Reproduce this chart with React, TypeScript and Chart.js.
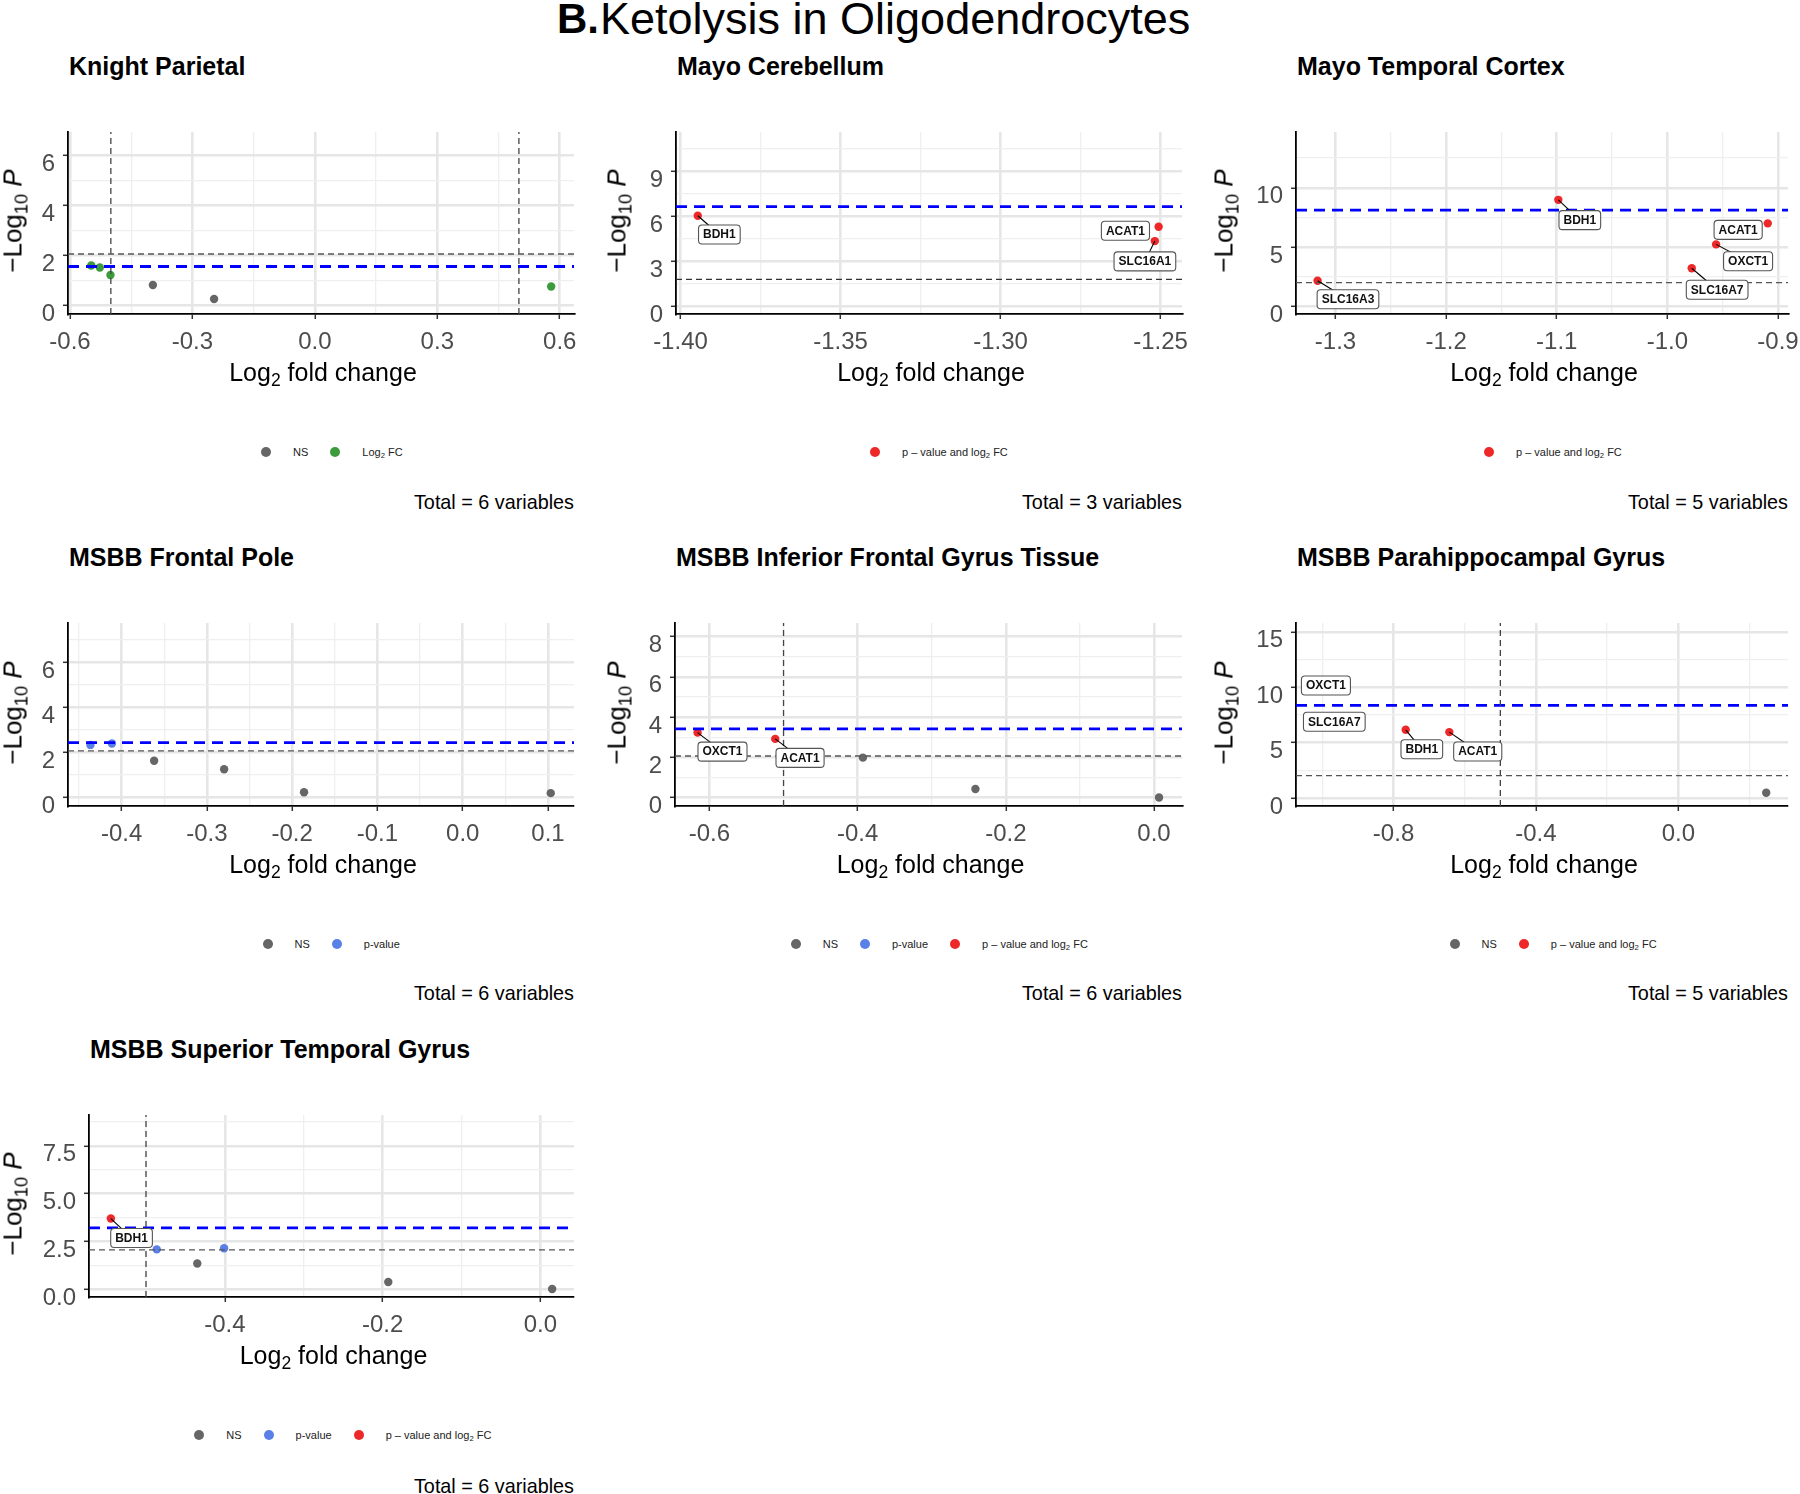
import React, { useEffect, useRef } from 'react';
import { Chart, registerables } from 'chart.js';

Chart.register(...registerables);

const FONT = "'Liberation Sans', Arial, Helvetica, sans-serif";

// ---------------- DATA ----------------
// Knight Parietal
const kpGenes = ['', '', '', '', '', ''];
const kpLog2FC = [-0.548, -0.527, -0.501, -0.397, -0.247, 0.579];
const kpNegLogP = [1.61, 1.53, 1.23, 0.83, 0.27, 0.77];
const kpCategory = ['FC', 'FC', 'FC', 'NS', 'NS', 'FC'];
const kpXTicks = [-0.6, -0.3, 0, 0.3, 0.6];
const kpXTickLabels = ['-0.6', '-0.3', '0.0', '0.3', '0.6'];
const kpXMinor = [-0.45, -0.15, 0.15, 0.45];
const kpYTicks = [0, 2, 4, 6];
const kpYTickLabels = ['0', '2', '4', '6'];
const kpYMinor = [1, 3, 5];

// Mayo Cerebellum
const mcGenes = ['BDH1', 'ACAT1', 'SLC16A1'];
const mcLog2FC = [-1.3946, -1.2506, -1.2518];
const mcNegLogP = [6.02, 5.29, 4.33];
const mcCategory = ['PFC', 'PFC', 'PFC'];
const mcXTicks = [-1.4, -1.35, -1.3, -1.25];
const mcXTickLabels = ['-1.40', '-1.35', '-1.30', '-1.25'];
const mcXMinor = [-1.375, -1.325, -1.275];
const mcYTicks = [0, 3, 6, 9];
const mcYTickLabels = ['0', '3', '6', '9'];
const mcYMinor = [1.5, 4.5, 7.5, 10.5];

// Mayo Temporal Cortex
const mtGenes = ['BDH1', 'ACAT1', 'OXCT1', 'SLC16A7', 'SLC16A3'];
const mtLog2FC = [-1.0986, -0.9093, -0.956, -0.978, -1.3162];
const mtNegLogP = [8.99, 7.01, 5.24, 3.23, 2.18];
const mtCategory = ['PFC', 'PFC', 'PFC', 'PFC', 'PFC'];
const mtXTicks = [-1.3, -1.2, -1.1, -1.0, -0.9];
const mtXTickLabels = ['-1.3', '-1.2', '-1.1', '-1.0', '-0.9'];
const mtXMinor = [-1.25, -1.15, -1.05, -0.95];
const mtYTicks = [0, 5, 10];
const mtYTickLabels = ['0', '5', '10'];
const mtYMinor = [2.5, 7.5, 12.5];

// MSBB Frontal Pole
const fpGenes = ['', '', '', '', '', ''];
const fpLog2FC = [-0.4366, -0.4114, -0.3619, -0.2798, -0.1861, 0.1032];
const fpNegLogP = [2.34, 2.4, 1.64, 1.26, 0.24, 0.2];
const fpCategory = ['P', 'P', 'NS', 'NS', 'NS', 'NS'];
const fpXTicks = [-0.4, -0.3, -0.2, -0.1, 0, 0.1];
const fpXTickLabels = ['-0.4', '-0.3', '-0.2', '-0.1', '0.0', '0.1'];
const fpXMinor = [-0.45, -0.35, -0.25, -0.15, -0.05, 0.05];
const fpYTicks = [0, 2, 4, 6];
const fpYTickLabels = ['0', '2', '4', '6'];
const fpYMinor = [1, 3, 5, 7];

// MSBB Inferior Frontal Gyrus Tissue
const ifGenes = ['OXCT1', 'ACAT1', '', '', '', ''];
const ifLog2FC = [-0.616, -0.5112, -0.475, -0.3929, -0.241, 0.0068];
const ifNegLogP = [3.23, 2.92, 2.25, 1.99, 0.43, 0.01];
const ifCategory = ['PFC', 'PFC', 'P', 'NS', 'NS', 'NS'];
const ifXTicks = [-0.6, -0.4, -0.2, 0];
const ifXTickLabels = ['-0.6', '-0.4', '-0.2', '0.0'];
const ifXMinor = [-0.5, -0.3, -0.1];
const ifYTicks = [0, 2, 4, 6, 8];
const ifYTickLabels = ['0', '2', '4', '6', '8'];
const ifYMinor = [1, 3, 5, 7];

// MSBB Parahippocampal Gyrus
const phGenes = ['OXCT1', 'SLC16A7', 'BDH1', 'ACAT1', ''];
const phLog2FC = [-1.011, -0.99, -0.7658, -0.6433, 0.2468];
const phNegLogP = [10.1, 6.9, 6.16, 5.95, 0.48];
const phCategory = ['PFC', 'PFC', 'PFC', 'PFC', 'NS'];
const phXTicks = [-0.8, -0.4, 0];
const phXTickLabels = ['-0.8', '-0.4', '0.0'];
const phXMinor = [-1.0, -0.6, -0.2, 0.2];
const phYTicks = [0, 5, 10, 15];
const phYTickLabels = ['0', '5', '10', '15'];
const phYMinor = [2.5, 7.5, 12.5];

// MSBB Superior Temporal Gyrus
const stGenes = ['BDH1', '', '', '', '', ''];
const stLog2FC = [-0.5446, -0.4864, -0.401, -0.435, -0.1928, 0.015];
const stNegLogP = [3.7, 2.09, 2.15, 1.35, 0.38, 0.02];
const stCategory = ['PFC', 'P', 'P', 'NS', 'NS', 'NS'];
const stXTicks = [-0.4, -0.2, 0];
const stXTickLabels = ['-0.4', '-0.2', '0.0'];
const stXMinor = [-0.5, -0.3, -0.1];
const stYTicks = [0, 2.5, 5, 7.5];
const stYTickLabels = ['0.0', '2.5', '5.0', '7.5'];
const stYMinor = [1.25, 3.75, 6.25, 8.75];

// ---------------- STYLE ----------------
const CAT_COLORS: Record<string, string> = {
  NS: '#666666',
  FC: '#3c9b3c',
  P: '#5a7fe6',
  PFC: '#ee2828',
};

const YW = 80; // y-axis band width
const PT = 24; // top padding
const PR = 50; // right padding
const XH = 64; // x-axis band height

type LabelStyle = { dx: number; dy: number; seg: boolean };

type PanelSpec = {
  title: string;
  genes: string[];
  x: number[];
  y: number[];
  cat: string[];
  xlim: [number, number];
  ylim: [number, number];
  xTicks: number[];
  xTickLabels: string[];
  xMinor: number[];
  yTicks: number[];
  yTickLabels: string[];
  yMinor: number[];
  pCut: number;
  pCutColor: string;
  hBlue: number;
  vCuts: number[];
  legend: string[];
  total: number;
  box: { L: number; T: number; R: number; B: number };
  yTitleX: number;
  legendLeft: number;
  legendY: number;
  totalBaseline: number;
  labelStyle: Record<string, LabelStyle>;
};

const panels: PanelSpec[] = [
  {
    title: 'Knight Parietal', genes: kpGenes, x: kpLog2FC, y: kpNegLogP, cat: kpCategory,
    xlim: [-0.605, 0.635], ylim: [-0.33, 6.95],
    xTicks: kpXTicks, xTickLabels: kpXTickLabels, xMinor: kpXMinor,
    yTicks: kpYTicks, yTickLabels: kpYTickLabels, yMinor: kpYMinor,
    pCut: 2.07, pCutColor: '#555555', hBlue: 1.57, vCuts: [-0.5, 0.5],
    legend: ['NS', 'FC'], total: 6,
    box: { L: 68, T: 132, R: 574, B: 314 }, yTitleX: 14,
    legendLeft: 261, legendY: 452, totalBaseline: 510,
    labelStyle: {},
  },
  {
    title: 'Mayo Cerebellum', genes: mcGenes, x: mcLog2FC, y: mcNegLogP, cat: mcCategory,
    xlim: [-1.4014, -1.2433], ylim: [-0.53, 11.6],
    xTicks: mcXTicks, xTickLabels: mcXTickLabels, xMinor: mcXMinor,
    yTicks: mcYTicks, yTickLabels: mcYTickLabels, yMinor: mcYMinor,
    pCut: 1.78, pCutColor: '#333333', hBlue: 6.62, vCuts: [],
    legend: ['PFC'], total: 3,
    box: { L: 676, T: 132, R: 1182, B: 314 }, yTitleX: 618,
    legendLeft: 870, legendY: 452, totalBaseline: 510,
    labelStyle: {
      BDH1: { dx: 21.6, dy: 18.8, seg: true },
      ACAT1: { dx: -33.2, dy: 4.1, seg: false },
      SLC16A1: { dx: -9.9, dy: 20.3, seg: true },
    },
  },
  {
    title: 'Mayo Temporal Cortex', genes: mtGenes, x: mtLog2FC, y: mtNegLogP, cat: mtCategory,
    xlim: [-1.3357, -0.891], ylim: [-0.62, 14.7],
    xTicks: mtXTicks, xTickLabels: mtXTickLabels, xMinor: mtXMinor,
    yTicks: mtYTicks, yTickLabels: mtYTickLabels, yMinor: mtYMinor,
    pCut: 2.02, pCutColor: '#555555', hBlue: 8.13, vCuts: [],
    legend: ['PFC'], total: 5,
    box: { L: 1296, T: 132, R: 1788, B: 314 }, yTitleX: 1225,
    legendLeft: 1484, legendY: 452, totalBaseline: 510,
    labelStyle: {
      BDH1: { dx: 21.5, dy: 20.3, seg: true },
      ACAT1: { dx: -29.6, dy: 6.5, seg: false },
      OXCT1: { dx: 32.0, dy: 16.9, seg: true },
      SLC16A7: { dx: 25.4, dy: 21.5, seg: true },
      SLC16A3: { dx: 30.4, dy: 18.5, seg: true },
    },
  },
  {
    title: 'MSBB Frontal Pole', genes: fpGenes, x: fpLog2FC, y: fpNegLogP, cat: fpCategory,
    xlim: [-0.4629, 0.1305], ylim: [-0.37, 7.75],
    xTicks: fpXTicks, xTickLabels: fpXTickLabels, xMinor: fpXMinor,
    yTicks: fpYTicks, yTickLabels: fpYTickLabels, yMinor: fpYMinor,
    pCut: 2.08, pCutColor: '#555555', hBlue: 2.44, vCuts: [],
    legend: ['NS', 'P'], total: 6,
    box: { L: 68, T: 623, R: 574, B: 806 }, yTitleX: 14,
    legendLeft: 262.5, legendY: 943.5, totalBaseline: 1001,
    labelStyle: {},
  },
  {
    title: 'MSBB Inferior Frontal Gyrus Tissue', genes: ifGenes, x: ifLog2FC, y: ifNegLogP, cat: ifCategory,
    xlim: [-0.6465, 0.0378], ylim: [-0.41, 8.67],
    xTicks: ifXTicks, xTickLabels: ifXTickLabels, xMinor: ifXMinor,
    yTicks: ifYTicks, yTickLabels: ifYTickLabels, yMinor: ifYMinor,
    pCut: 2.07, pCutColor: '#555555', hBlue: 3.42, vCuts: [-0.5],
    legend: ['NS', 'P', 'PFC'], total: 6,
    box: { L: 675, T: 623, R: 1182, B: 806 }, yTitleX: 618,
    legendLeft: 790.7, legendY: 943.5, totalBaseline: 1001,
    labelStyle: {
      OXCT1: { dx: 24.9, dy: 19, seg: true },
      ACAT1: { dx: 24.8, dy: 19, seg: true },
    },
  },
  {
    title: 'MSBB Parahippocampal Gyrus', genes: phGenes, x: phLog2FC, y: phNegLogP, cat: phCategory,
    xlim: [-1.074, 0.308], ylim: [-0.72, 15.8],
    xTicks: phXTicks, xTickLabels: phXTickLabels, xMinor: phXMinor,
    yTicks: phYTicks, yTickLabels: phYTickLabels, yMinor: phYMinor,
    pCut: 2.02, pCutColor: '#555555', hBlue: 8.36, vCuts: [-0.5],
    legend: ['NS', 'PFC'], total: 5,
    box: { L: 1296, T: 623, R: 1788, B: 806 }, yTitleX: 1225,
    legendLeft: 1449.5, legendY: 943.5, totalBaseline: 1001,
    labelStyle: {
      OXCT1: { dx: 7.5, dy: -0.7, seg: false },
      SLC16A7: { dx: 8.4, dy: 0.1, seg: false },
      BDH1: { dx: 16.1, dy: 19.5, seg: true },
      ACAT1: { dx: 28.4, dy: 19.4, seg: true },
    },
  },
  {
    title: 'MSBB Superior Temporal Gyrus', genes: stGenes, x: stLog2FC, y: stNegLogP, cat: stCategory,
    xlim: [-0.5723, 0.0427], ylim: [-0.4, 9.11],
    xTicks: stXTicks, xTickLabels: stXTickLabels, xMinor: stXMinor,
    yTicks: stYTicks, yTickLabels: stYTickLabels, yMinor: stYMinor,
    pCut: 2.06, pCutColor: '#555555', hBlue: 3.21, vCuts: [-0.5],
    legend: ['NS', 'P', 'PFC'], total: 6,
    box: { L: 89, T: 1115, R: 574, B: 1297 }, yTitleX: 14,
    legendLeft: 194.3, legendY: 1435, totalBaseline: 1494,
    labelStyle: {
      BDH1: { dx: 20.7, dy: 19.4, seg: true },
    },
  },
];

// ---------------- HELPERS ----------------
const near = (a: number, b: number) => Math.abs(a - b) < 1e-9;

function axisOptions(
  min: number, max: number, major: number[], majorLabels: string[], minor: number[],
  position: 'left' | 'bottom', fixedSize: number,
) {
  const all = [...major, ...minor].filter((v) => v >= min && v <= max).sort((a, b) => a - b);
  const isMajor = (v: any) => typeof v === 'number' && major.some((m) => near(m, v));
  const labelFor = (v: number) => {
    const i = major.findIndex((m) => near(m, v));
    return i >= 0 ? majorLabels[i] : '';
  };
  return {
    type: 'linear',
    position,
    min,
    max,
    bounds: 'data',
    afterBuildTicks: (axis: any) => {
      axis.ticks = all.map((v) => ({ value: v }));
    },
    afterFit: (axis: any) => {
      if (position === 'left') axis.width = fixedSize;
      else axis.height = fixedSize;
    },
    grid: {
      color: (c: any) => (isMajor(c.tick?.value) ? '#E6E6E6' : '#EFEFEF'),
      lineWidth: (c: any) => (isMajor(c.tick?.value) ? 2.6 : 1.3),
      tickColor: (c: any) => (isMajor(c.tick?.value) ? '#333333' : 'rgba(0,0,0,0)'),
      tickWidth: 1.5,
      tickLength: 5,
      drawTicks: true,
      drawOnChartArea: true,
    },
    border: { display: true, color: '#000000', width: 1.8 },
    ticks: {
      autoSkip: false,
      maxRotation: 0,
      minRotation: 0,
      padding: position === 'left' ? 8 : 9,
      labelOffset: position === 'left' ? 9 : 0,
      color: '#4D4D4D',
      font: { family: FONT, size: 24 },
      callback: (v: any) => labelFor(Number(v)),
    },
  };
}

function makeLabelPlugin(spec: PanelSpec) {
  return {
    id: 'geneLabels',
    afterDatasetsDraw(chart: any) {
      const { ctx } = chart;
      const xs = chart.scales.x;
      const ys = chart.scales.y;
      ctx.save();
      ctx.font = `bold 12px ${FONT}`;
      spec.genes.forEach((g, i) => {
        if (!g) return;
        const st = spec.labelStyle[g];
        if (!st) return;
        const px = xs.getPixelForValue(spec.x[i]);
        const py = ys.getPixelForValue(spec.y[i]);
        const cx = px + st.dx;
        const cy = py + st.dy;
        const tw = ctx.measureText(g).width;
        const w = tw + 9;
        const h = 19;
        if (st.seg) {
          ctx.beginPath();
          ctx.moveTo(px, py);
          ctx.lineTo(cx, cy);
          ctx.strokeStyle = '#000000';
          ctx.lineWidth = 1.1;
          ctx.stroke();
        }
        const x0 = cx - w / 2;
        const y0 = cy - h / 2;
        const r = 3.5;
        ctx.beginPath();
        ctx.moveTo(x0 + r, y0);
        ctx.lineTo(x0 + w - r, y0);
        ctx.quadraticCurveTo(x0 + w, y0, x0 + w, y0 + r);
        ctx.lineTo(x0 + w, y0 + h - r);
        ctx.quadraticCurveTo(x0 + w, y0 + h, x0 + w - r, y0 + h);
        ctx.lineTo(x0 + r, y0 + h);
        ctx.quadraticCurveTo(x0, y0 + h, x0, y0 + h - r);
        ctx.lineTo(x0, y0 + r);
        ctx.quadraticCurveTo(x0, y0, x0 + r, y0);
        ctx.closePath();
        ctx.fillStyle = '#ffffff';
        ctx.fill();
        ctx.strokeStyle = '#555555';
        ctx.lineWidth = 1.1;
        ctx.stroke();
        ctx.fillStyle = '#111111';
        ctx.textAlign = 'center';
        ctx.textBaseline = 'middle';
        ctx.fillText(g, cx, cy + 0.5);
      });
      ctx.restore();
    },
  };
}

const Sub = ({ children }: { children: React.ReactNode }) => (
  <span style={{ fontSize: '0.7em', position: 'relative', top: '0.32em' }}>{children}</span>
);

function legendText(cat: string): React.ReactNode {
  if (cat === 'NS') return 'NS';
  if (cat === 'FC') return (<>Log<Sub>2</Sub> FC</>);
  if (cat === 'P') return 'p-value';
  return (<>p – value and log<Sub>2</Sub> FC</>);
}

function TextAt({ x, baseline, size, bold, align, color, children }: any) {
  const top = baseline - 0.8465 * size;
  const tx = align === 'right' ? 'translateX(-100%)' : align === 'center' ? 'translateX(-50%)' : 'none';
  return (
    <div
      style={{
        position: 'absolute', left: x, top, fontSize: size, lineHeight: `${size}px`,
        fontFamily: FONT, fontWeight: bold ? 'bold' : 'normal', whiteSpace: 'nowrap',
        transform: tx, color: color || '#000',
      }}
    >
      {children}
    </div>
  );
}

function VolcanoPanel({ spec }: { spec: PanelSpec }) {
  const ref = useRef<HTMLCanvasElement>(null);
  const { L, T, R, B } = spec.box;
  const W = YW + (R - L) + PR;
  const H = PT + (B - T) + XH;

  useEffect(() => {
    if (!ref.current) return;
    const [xmin, xmax] = spec.xlim;
    const [ymin, ymax] = spec.ylim;
    const datasets: any[] = [];
    const lineBase = { showLine: true, pointRadius: 0, fill: false, order: 0 };
    datasets.push({
      ...lineBase,
      data: [{ x: xmin, y: spec.pCut }, { x: xmax, y: spec.pCut }],
      borderColor: spec.pCutColor, borderWidth: 1.3, borderDash: [6, 4],
    });
    spec.vCuts.forEach((v) => {
      datasets.push({
        ...lineBase,
        data: [{ x: v, y: ymin }, { x: v, y: ymax }],
        borderColor: '#444444', borderWidth: 1.3, borderDash: [6, 4],
      });
    });
    datasets.push({
      ...lineBase,
      data: [{ x: xmin, y: spec.hBlue }, { x: xmax, y: spec.hBlue }],
      borderColor: '#0000ff', borderWidth: 2.8, borderDash: [11, 7],
    });
    ['NS', 'FC', 'P', 'PFC'].forEach((c) => {
      const pts = spec.x
        .map((xv, i) => ({ x: xv, y: spec.y[i], c: spec.cat[i] }))
        .filter((p) => p.c === c)
        .map((p) => ({ x: p.x, y: p.y }));
      if (!pts.length) return;
      datasets.push({
        data: pts, showLine: false, pointRadius: 4.2, pointBorderWidth: 0,
        backgroundColor: CAT_COLORS[c], borderColor: CAT_COLORS[c], order: 1,
      });
    });

    const chart = new Chart(ref.current, {
      type: 'scatter',
      data: { datasets },
      options: {
        animation: false,
        responsive: false,
        devicePixelRatio: 1,
        events: [],
        layout: { padding: { left: 0, top: PT, right: PR, bottom: 0 } },
        plugins: { legend: { display: false }, tooltip: { enabled: false }, title: { display: false } },
        scales: {
          x: axisOptions(xmin, xmax, spec.xTicks, spec.xTickLabels, spec.xMinor, 'bottom', XH) as any,
          y: axisOptions(ymin, ymax, spec.yTicks, spec.yTickLabels, spec.yMinor, 'left', YW) as any,
        },
      } as any,
      plugins: [makeLabelPlugin(spec) as any],
    });
    return () => chart.destroy();
  }, [spec]);

  return (
    <>
      <canvas
        ref={ref}
        width={W}
        height={H}
        style={{ position: 'absolute', left: L - YW, top: T - PT, width: W, height: H }}
      />
      <TextAt x={L + 1} baseline={T - 57} size={25} bold>{spec.title}</TextAt>
      <TextAt x={(L + R) / 2 + 2} baseline={B + 67} size={25} align="center">
        Log<Sub>2</Sub> fold change
      </TextAt>
      <div
        style={{
          position: 'absolute', left: spec.yTitleX, top: (T + B) / 2 - 2, fontSize: 26, lineHeight: '26px',
          fontFamily: FONT, whiteSpace: 'nowrap', transform: 'translate(-50%, -50%) rotate(-90deg)', color: '#000',
        }}
      >
        {'\u2212'}Log<Sub>10</Sub> <i>P</i>
      </div>
      <div
        style={{
          position: 'absolute', left: spec.legendLeft, top: spec.legendY - 8, height: 16,
          display: 'flex', alignItems: 'center', fontFamily: FONT, fontSize: 11, color: '#222', whiteSpace: 'nowrap',
        }}
      >
        {spec.legend.map((c, i) => (
          <React.Fragment key={c}>
            <span
              style={{
                display: 'inline-block', width: 10, height: 10, borderRadius: 5, background: CAT_COLORS[c],
                marginLeft: i === 0 ? 0 : 22,
              }}
            />
            <span style={{ marginLeft: 22 }}>{legendText(c)}</span>
          </React.Fragment>
        ))}
      </div>
      <TextAt x={R} baseline={spec.totalBaseline} size={19.8} align="right">
        Total = {spec.total} variables
      </TextAt>
    </>
  );
}

export default function App() {
  return (
    <div
      style={{
        position: 'absolute', left: 0, top: 0, width: 1800, height: 1494, background: '#ffffff',
        overflow: 'hidden', fontFamily: FONT,
      }}
    >
      <TextAt x={557} baseline={34} size={42} bold>B.</TextAt>
      <TextAt x={600} baseline={34} size={45}>Ketolysis in Oligodendrocytes</TextAt>
      {panels.map((p) => (
        <VolcanoPanel key={p.title} spec={p} />
      ))}
    </div>
  );
}
